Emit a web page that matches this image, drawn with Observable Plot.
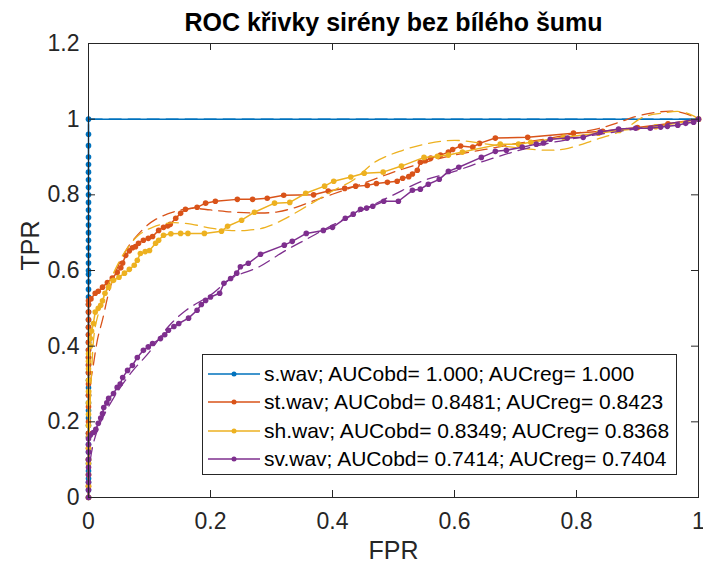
<!DOCTYPE html>
<html>
<head>
<meta charset="utf-8">
<script src="https://cdn.jsdelivr.net/npm/d3@7"></script>
<script src="https://cdn.jsdelivr.net/npm/@observablehq/plot@0.6"></script>
<style>
  html, body { margin: 0; padding: 0; background: #fff; }
  #wrap { position: relative; width: 703px; height: 569px; font-family: "Liberation Sans", Arial, sans-serif; }
  #legend { position: absolute; left: 202px; top: 354px; width: 473px; height: 119px; border: 1px solid #262626; background: #fff; }
  .row { position: absolute; left: 0; height: 28px; display: flex; align-items: center; font-size: 21px; color: #000; white-space: nowrap; }
  .row svg { display: block; margin-left: 4px; margin-right: 3px; }
</style>
</head>
<body>
<div id="wrap"><div id="legend"></div></div>
<script>
const title = "ROC křivky sirény bez bílého šumu";
const xLabel = "FPR";
const yLabel = "TPR";
const xTicks = [0, 0.2, 0.4, 0.6, 0.8, 1];
const yTicks = [0, 0.2, 0.4, 0.6, 0.8, 1, 1.2];

const seriesNames = ["s.wav", "st.wav", "sh.wav", "sv.wav"];
const seriesColors = ["#0072BD", "#D95319", "#EDB120", "#7E2F8E"];
const aucObd = ["1.000", "0.8481", "0.8349", "0.7414"];
const aucReg = ["1.000", "0.8423", "0.8368", "0.7404"];

// s.wav observed
const sFpr = [0,0,0,0,0,0,0,0,0,0,0,0,0,0,0,0,0,0,0,0,0,0,0,0,0,0,0,0,0,0,0,0,0,0,0,0,0,0,0,0,0,0,0,0,0,0,0,0,0,0,0,1];
const sTpr = [0,0.02,0.04,0.05,0.07,0.09,0.1,0.12,0.14,0.16,0.17,0.19,0.21,0.23,0.25,0.27,0.29,0.31,0.33,0.35,0.37,0.39,0.41,0.43,0.45,0.47,0.49,0.51,0.53,0.55,0.57,0.59,0.6,0.62,0.64,0.66,0.68,0.7,0.72,0.74,0.76,0.78,0.8,0.82,0.84,0.86,0.88,0.9,0.93,0.96,1,1];
const sRegFpr = [0, 0, 1];
const sRegTpr = [0, 1, 1];

// st.wav observed
const stFpr = [0,0,0,0,0,0,0,0,0,0,0,0,0,0,0,0,0,0,0,0,0,0.004,0.011,0.016,0.023,0.031,0.039,0.047,0.053,0.056,0.061,0.067,0.072,0.077,0.082,0.09,0.098,0.105,0.115,0.123,0.13,0.134,0.143,0.151,0.159,0.178,0.192,0.208,0.244,0.269,0.293,0.32,0.369,0.393,0.42,0.438,0.457,0.472,0.49,0.506,0.515,0.525,0.531,0.539,0.544,0.552,0.561,0.577,0.59,0.597,0.61,0.63,0.641,0.667,0.72,0.795,0.843,0.9,0.95,1];
const stTpr = [0,0.03,0.06,0.1,0.13,0.17,0.2,0.24,0.27,0.3,0.33,0.35,0.37,0.39,0.41,0.43,0.45,0.47,0.49,0.51,0.52,0.525,0.54,0.545,0.556,0.568,0.58,0.595,0.607,0.62,0.64,0.652,0.66,0.663,0.672,0.68,0.685,0.69,0.706,0.714,0.718,0.722,0.738,0.751,0.762,0.767,0.778,0.783,0.788,0.788,0.791,0.799,0.8,0.81,0.817,0.823,0.825,0.83,0.833,0.836,0.844,0.848,0.855,0.865,0.886,0.89,0.897,0.905,0.913,0.92,0.929,0.926,0.936,0.95,0.952,0.963,0.968,0.978,0.988,1];
const stRegFpr = [0,0.001,0.003,0.007,0.015,0.023,0.033,0.043,0.064,0.09,0.11,0.14,0.17,0.2,0.24,0.28,0.31,0.34,0.37,0.415,0.46,0.5,0.55,0.6,0.65,0.7,0.75,0.8,0.845,0.87,0.9,0.93,0.96,0.98,1];
const stRegTpr = [0,0.15,0.3,0.34,0.42,0.47,0.54,0.59,0.66,0.71,0.735,0.755,0.764,0.76,0.754,0.752,0.755,0.767,0.785,0.81,0.836,0.86,0.885,0.905,0.92,0.935,0.948,0.963,0.979,0.992,1.008,1.018,1.021,1.014,1];

// sh.wav observed
const shFpr = [0,0,0,0,0,0,0,0,0,0,0,0,0,0,0,0.003,0.003,0.005,0.008,0.011,0.016,0.02,0.023,0.027,0.033,0.041,0.05,0.059,0.067,0.075,0.08,0.085,0.093,0.1,0.11,0.115,0.123,0.135,0.151,0.163,0.19,0.218,0.228,0.251,0.272,0.305,0.33,0.356,0.387,0.402,0.43,0.452,0.483,0.513,0.55,0.572,0.59,0.613,0.675,0.705,0.725,0.779,0.836,0.87,0.93,1];
const shTpr = [0,0.03,0.06,0.09,0.1,0.13,0.16,0.19,0.22,0.25,0.28,0.31,0.34,0.36,0.38,0.4,0.42,0.44,0.46,0.49,0.5,0.508,0.52,0.54,0.556,0.574,0.582,0.593,0.603,0.614,0.627,0.645,0.65,0.653,0.672,0.68,0.693,0.697,0.698,0.698,0.698,0.704,0.717,0.733,0.754,0.778,0.78,0.804,0.823,0.836,0.847,0.857,0.86,0.876,0.899,0.902,0.905,0.913,0.934,0.934,0.939,0.952,0.963,0.97,0.98,1];
const shRegFpr = [0,0.001,0.005,0.011,0.025,0.041,0.06,0.082,0.105,0.135,0.17,0.2,0.23,0.26,0.29,0.32,0.36,0.4,0.435,0.47,0.51,0.555,0.6,0.65,0.7,0.75,0.78,0.83,0.875,0.91,0.94,0.97,0.99,1];
const shRegTpr = [0,0.15,0.33,0.45,0.53,0.593,0.65,0.693,0.714,0.726,0.722,0.712,0.706,0.706,0.714,0.735,0.772,0.81,0.84,0.887,0.915,0.935,0.944,0.935,0.925,0.918,0.921,0.945,0.97,1.006,1.016,1.02,1.01,1];

// sv.wav observed
const svFpr = [0,0,0,0,0,0,0,0,0,0.003,0.008,0.012,0.016,0.02,0.023,0.025,0.03,0.033,0.041,0.047,0.052,0.056,0.064,0.072,0.08,0.09,0.098,0.105,0.118,0.125,0.131,0.14,0.148,0.164,0.178,0.185,0.192,0.2,0.215,0.222,0.233,0.243,0.249,0.262,0.282,0.321,0.334,0.357,0.385,0.4,0.421,0.434,0.446,0.456,0.466,0.484,0.508,0.531,0.544,0.557,0.575,0.59,0.607,0.644,0.667,0.685,0.711,0.734,0.746,0.757,0.785,0.811,0.839,0.869,0.897,0.921,0.938,0.949,0.966,0.979,0.992,1];
const svTpr = [0,0.02,0.04,0.06,0.08,0.1,0.12,0.14,0.155,0.165,0.172,0.18,0.196,0.21,0.222,0.238,0.25,0.262,0.275,0.291,0.3,0.317,0.336,0.349,0.37,0.389,0.398,0.407,0.42,0.43,0.442,0.452,0.46,0.474,0.495,0.51,0.521,0.53,0.54,0.566,0.579,0.593,0.61,0.619,0.643,0.667,0.677,0.698,0.706,0.714,0.738,0.749,0.762,0.765,0.77,0.783,0.783,0.812,0.815,0.828,0.841,0.862,0.873,0.899,0.915,0.918,0.926,0.934,0.937,0.947,0.95,0.952,0.966,0.974,0.976,0.976,0.979,0.981,0.984,0.989,0.992,1];
const svRegFpr = [0,0.003,0.015,0.04,0.07,0.1,0.13,0.16,0.2,0.235,0.28,0.32,0.36,0.4,0.45,0.5,0.55,0.6,0.65,0.7,0.75,0.8,0.85,0.9,0.95,1];
const svRegTpr = [0,0.1,0.18,0.26,0.33,0.385,0.45,0.495,0.535,0.58,0.61,0.65,0.685,0.72,0.76,0.8,0.838,0.862,0.89,0.915,0.935,0.95,0.963,0.975,0.988,1];

const obs = [[sFpr, sTpr], [stFpr, stTpr], [shFpr, shTpr], [svFpr, svTpr]];
const reg = [[sRegFpr, sRegTpr], [stRegFpr, stRegTpr], [shRegFpr, shRegTpr], [svRegFpr, svRegTpr]];
const zip = (xs, ys) => xs.map((x, i) => ({fpr: x, tpr: ys[i]}));

const ink = "#262626";
const font = "Liberation Sans, Arial, sans-serif";
const marks = [];
obs.forEach(([xs, ys], k) => {
  const rows = zip(xs, ys);
  const c = seriesColors[k];
  marks.push(Plot.line(rows, {x: "fpr", y: "tpr", stroke: c, strokeWidth: 1.5}));
  marks.push(Plot.dot(k === 0 ? rows.slice(0, -1) : rows, {x: "fpr", y: "tpr", fill: c, r: 2.8}));
  const [rx, ry] = reg[k];
  marks.push(Plot.line(zip(rx, ry), {x: "fpr", y: "tpr", stroke: c, strokeWidth: 1.3, strokeDasharray: "12,7", curve: k === 0 ? "linear" : "catmull-rom"}));
});

const chart = Plot.plot({
  width: 703,
  height: 569,
  marginLeft: 88,
  marginRight: 5,
  marginTop: 43,
  marginBottom: 72,
  x: {domain: [0, 1]},
  y: {domain: [0, 1.2]},
  style: {fontFamily: font, fontSize: "23px", color: ink, background: "transparent", overflow: "visible"},
  marks: [
    Plot.axisX(xTicks, {tickSize: 0, tickPadding: 15, tickFormat: d => String(d), label: null, fontSize: 23, fill: ink}),
    Plot.axisY(yTicks, {tickSize: 0, tickPadding: 9, tickFormat: d => String(d), label: null, fontSize: 23, fill: ink}),
    ...marks,
    Plot.tickX(xTicks, {x: d => d, insetTop: 447, stroke: ink}),
    Plot.tickX(xTicks, {x: d => d, insetBottom: 447, stroke: ink}),
    Plot.tickY(yTicks, {y: d => d, insetRight: 603, stroke: ink}),
    Plot.tickY(yTicks, {y: d => d, insetLeft: 603, stroke: ink}),
    Plot.frame({stroke: ink, strokeWidth: 1}),
    Plot.text([title], {text: d => d, frameAnchor: "top", dy: -21, fontWeight: "bold", fontSize: 25, fill: "#000", lineAnchor: "middle"}),
    Plot.text([xLabel], {text: d => d, frameAnchor: "bottom", dy: 53, fontSize: 25, fill: ink, lineAnchor: "middle"}),
    Plot.text([yLabel], {text: d => d, frameAnchor: "left", dx: -58, rotate: -90, fontSize: 25, fill: ink, lineAnchor: "middle"})
  ]
});
const wrap = document.getElementById("wrap");
wrap.insertBefore(chart, wrap.firstChild);

const legend = document.getElementById("legend");
seriesNames.forEach((name, k) => {
  const row = document.createElement("div");
  row.className = "row";
  row.style.top = (5 + k * 28.3) + "px";
  const c = seriesColors[k];
  row.innerHTML = `<svg width="54" height="10"><line x1="1" y1="5" x2="53" y2="5" stroke="${c}" stroke-width="1.3"/><circle cx="27" cy="5" r="2.5" fill="${c}"/></svg><span>${name}; AUCobd= ${aucObd[k]}; AUCreg= ${aucReg[k]}</span>`;
  legend.appendChild(row);
});
</script>
</body>
</html>
